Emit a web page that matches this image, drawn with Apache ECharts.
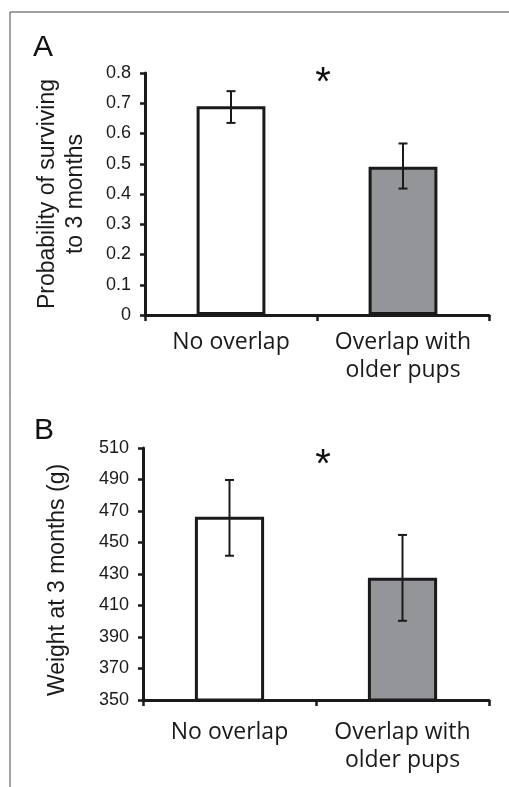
<!DOCTYPE html>
<html>
<head>
<meta charset="utf-8">
<script src="https://cdn.jsdelivr.net/npm/echarts@6/dist/echarts.min.js"></script>
<style>html,body{margin:0;padding:0;background:#fff;}#c{width:509px;height:787px;}</style>
</head>
<body>
<div id="c"></div>
<script>
var categories = ['No overlap', 'Overlap with\nolder pups'];
var survivalMean = [0.69, 0.49];
var survivalLow = [0.635, 0.418];
var survivalHigh = [0.740, 0.567];
var weightMean = [466.4, 427.6];
var weightLow = [441.6, 400.3];
var weightHigh = [489.7, 454.8];
var survivalTicks = {min: 0, max: 0.8, interval: 0.1};
var weightTicks = {min: 350, max: 510, interval: 20};
var barColors = ['#ffffff', '#939598'];

var SANS = '"Liberation Sans", Arial, sans-serif';
var chart = echarts.init(document.getElementById('c'), null, {renderer: 'canvas'});

function errBar(xIdx, yIdx, low, high) {
  return {
    type: 'custom', xAxisIndex: xIdx, yAxisIndex: yIdx, z: 10,
    data: low.map(function (l, i) { return [i, l, high[i]]; }),
    renderItem: function (params, api) {
      var p1 = api.coord([api.value(0), api.value(1)]);
      var p2 = api.coord([api.value(0), api.value(2)]);
      var hw = 4.5;
      var st = {stroke: '#1a1a1a', lineWidth: 2};
      return {type: 'group', children: [
        {type: 'line', shape: {x1: p1[0], y1: p1[1], x2: p2[0], y2: p2[1]}, style: st},
        {type: 'line', shape: {x1: p1[0] - hw, y1: p1[1], x2: p1[0] + hw, y2: p1[1]}, style: st},
        {type: 'line', shape: {x1: p2[0] - hw, y1: p2[1], x2: p2[0] + hw, y2: p2[1]}, style: st}
      ]};
    }
  };
}

function xAx(gi, margin) {
  return {
    type: 'category', gridIndex: gi, data: categories,
    axisLine: {lineStyle: {color: '#1a1a1a', width: 3}},
    axisTick: {show: true, length: 6, lineStyle: {color: '#1a1a1a', width: 2.5}},
    axisLabel: {color: '#1a1a1a', fontFamily: '"Open Sans", sans-serif', fontSize: 23, lineHeight: 28, margin: margin, interval: 0}
  };
}
function yAx(gi, t, name, nameGap, dec, pad) {
  return {
    type: 'value', gridIndex: gi, min: t.min, max: t.max, interval: t.interval,
    name: name, nameLocation: 'middle', nameGap: nameGap,
    nameTextStyle: {color: '#1a1a1a', fontFamily: SANS, fontSize: 23, lineHeight: 28, padding: pad},
    splitLine: {show: false},
    axisLine: {show: true, lineStyle: {color: '#1a1a1a', width: 3}},
    axisTick: {show: true, length: 5, lineStyle: {color: '#1a1a1a', width: 2.5}},
    axisLabel: {color: '#1a1a1a', fontFamily: SANS, fontSize: 18, margin: 14,
      formatter: function (v) { return dec ? (Math.round(v * 10) / 10).toString() : String(v); }}
  };
}
function bars(xIdx, yIdx, vals) {
  return {
    type: 'bar', xAxisIndex: xIdx, yAxisIndex: yIdx, barWidth: '40%',
    data: vals.map(function (v, i) {
      return {value: v, itemStyle: {color: barColors[i], borderColor: '#1a1a1a', borderWidth: 3}};
    })
  };
}

chart.setOption({
  animation: false,
  backgroundColor: '#fff',
  grid: [
    {left: 145, top: 73, right: 20, height: 242},
    {left: 143, top: 448, right: 20, height: 252}
  ],
  xAxis: [xAx(0, 13), xAx(1, 18)],
  yAxis: [
    yAx(0, survivalTicks, 'Probability of surviving\nto 3 months', 55, true, [0, 0, 0, 0]),
    yAx(1, weightTicks, 'Weight at 3 months (g)', 71, false, [0, 12, 0, 0])
  ],
  series: [
    bars(0, 0, survivalMean),
    bars(1, 1, weightMean),
    errBar(0, 0, survivalLow, survivalHigh),
    errBar(1, 1, weightLow, weightHigh)
  ],
  graphic: [
    {type: 'line', shape: {x1: 10, y1: 12, x2: 509, y2: 12}, style: {stroke: '#444', lineWidth: 1}},
    {type: 'line', shape: {x1: 10, y1: 12, x2: 10, y2: 787}, style: {stroke: '#444', lineWidth: 1}},
    {type: 'text', left: 33, top: 33, style: {text: 'A', font: '30px ' + SANS, fill: '#111'}},
    {type: 'text', left: 34, top: 416, style: {text: 'B', font: '30px ' + SANS, fill: '#111'}},
    {type: 'text', x: 323, y: 84, style: {text: '*', font: '40px ' + SANS, fill: '#111', textAlign: 'center', textVerticalAlign: 'middle'}},
    {type: 'text', x: 323, y: 466, style: {text: '*', font: '40px ' + SANS, fill: '#111', textAlign: 'center', textVerticalAlign: 'middle'}}
  ]
});
</script>
</body>
</html>
